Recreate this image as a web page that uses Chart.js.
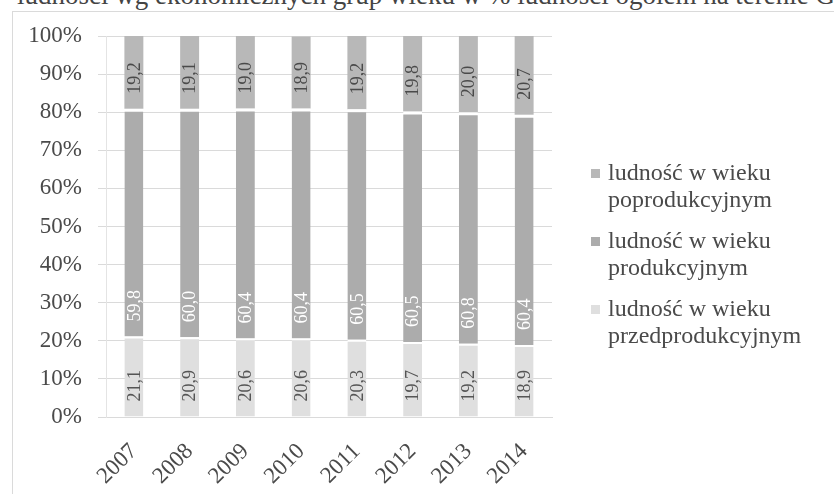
<!DOCTYPE html>
<html lang="pl">
<head>
<meta charset="utf-8">
<script src="https://cdn.jsdelivr.net/npm/chart.js@4.4.0/dist/chart.umd.min.js"></script>
<style>
  body { margin: 0; background: #fff; }
  #wrap { position: relative; width: 834px; height: 494px; overflow: hidden; font-family: "Liberation Serif", serif; }
  #title { position: absolute; left: 17px; top: -20px; font-size: 27px; line-height: 31px; color: #444; white-space: nowrap; }
  #frame { position: absolute; left: 12px; top: 11px; width: 900px; height: 600px; border-left: 1px solid #dadada; border-top: 1px solid #dadada; }
  #box { position: absolute; left: 0; top: 0; width: 834px; height: 494px; }
  #legend { position: absolute; left: 591px; top: 159px; }
  .item { position: relative; margin-bottom: 14px; padding-left: 17px; width: 215px; font-size: 24px; line-height: 27px; color: #4a4a4a; }
  .item .sq { position: absolute; left: 0; top: 10px; width: 9px; height: 9px; }
</style>
</head>
<body>
<div id="wrap">
  <div id="title">ludności wg ekonomicznych grup wieku w % ludności ogółem na terenie G</div>
  <div id="frame"></div>
  <div id="box"><canvas id="chart"></canvas></div>
  <div id="legend"></div>
</div>
<script>
// lata
var years = ['2007', '2008', '2009', '2010', '2011', '2012', '2013', '2014'];

// udział grup wieku w %
var przedprodukcyjny = [21.1, 20.9, 20.6, 20.6, 20.3, 19.7, 19.2, 18.9];
var produkcyjny = [59.8, 60.0, 60.4, 60.4, 60.5, 60.5, 60.8, 60.4];
var poprodukcyjny = [19.2, 19.1, 19.0, 18.9, 19.2, 19.8, 20.0, 20.7];

var seriesNames = [
  'ludność w wieku przedprodukcyjnym',
  'ludność w wieku produkcyjnym',
  'ludność w wieku poprodukcyjnym'
];

var yTicks = [0, 10, 20, 30, 40, 50, 60, 70, 80, 90, 100];

var serif = 'Liberation Serif';

// podpisy wartości obrócone o 90 stopni, przy podstawie słupka
var valueLabels = {
  id: 'valueLabels',
  afterDatasetsDraw: function(chart) {
    var ctx = chart.ctx;
    chart.data.datasets.forEach(function(ds, i) {
      var meta = chart.getDatasetMeta(i);
      meta.data.forEach(function(bar, j) {
        var txt = ds.data[j].toFixed(1).replace('.', ',');
        ctx.save();
        ctx.translate(bar.x, bar.base - 15);
        ctx.rotate(-Math.PI / 2);
        ctx.font = '18px "' + serif + '"';
        ctx.fillStyle = ds.labelColor;
        ctx.textAlign = 'left';
        ctx.textBaseline = 'middle';
        ctx.fillText(txt, 0, 1);
        ctx.restore();
      });
    });
  }
};

var chart = new Chart(document.getElementById('chart'), {
  type: 'bar',
  data: {
    labels: years,
    datasets: [{
      label: seriesNames[0],
      data: przedprodukcyjny,
      backgroundColor: '#dfdfdf',
      borderColor: '#ffffff',
      borderWidth: {top: 2, right: 0, bottom: 0, left: 0},
      labelColor: '#555555'
    }, {
      label: seriesNames[1],
      data: produkcyjny,
      backgroundColor: '#acacac',
      borderColor: '#ffffff',
      borderWidth: {top: 3, right: 0, bottom: 0, left: 0},
      labelColor: '#ffffff'
    }, {
      label: seriesNames[2],
      data: poprodukcyjny,
      backgroundColor: '#b8b8b8',
      borderWidth: 0,
      labelColor: '#4a4a4a'
    }]
  },
  options: {
    responsive: true,
    maintainAspectRatio: false,
    animation: false,
    barPercentage: 0.34,
    categoryPercentage: 1.0,
    layout: { padding: { left: 10, right: 282, top: 36, bottom: 0 } },
    plugins: {
      legend: { display: false },
      tooltip: { enabled: false }
    },
    scales: {
      x: {
        stacked: true,
        grid: { display: false, drawTicks: false },
        border: { color: '#dadada' },
        ticks: {
          font: { family: serif, size: 23 },
          color: '#4a4a4a',
          minRotation: 45,
          maxRotation: 45,
          padding: 21
        },
        afterFit: function(scale) { scale.height = 77; }
      },
      y: {
        stacked: true,
        min: 0,
        max: 100,
        afterBuildTicks: function(scale) {
          scale.ticks = yTicks.map(function(v) { return {value: v}; });
        },
        grid: { color: '#dadada', tickLength: 8 },
        border: { color: '#e4e4e4' },
        ticks: {
          font: { family: serif, size: 23 },
          color: '#4a4a4a',
          padding: 16,
          callback: function(v) { return v + '%'; }
        },
        afterFit: function(scale) { scale.width = 96; }
      }
    }
  },
  plugins: [valueLabels]
});

// legenda HTML (od góry: poprodukcyjny, produkcyjny, przedprodukcyjny)
var legend = document.getElementById('legend');
chart.data.datasets.slice().reverse().forEach(function(ds) {
  var item = document.createElement('div');
  item.className = 'item';
  var sq = document.createElement('span');
  sq.className = 'sq';
  sq.style.background = ds.backgroundColor;
  item.appendChild(sq);
  item.appendChild(document.createTextNode(ds.label));
  legend.appendChild(item);
});
</script>
</body>
</html>
